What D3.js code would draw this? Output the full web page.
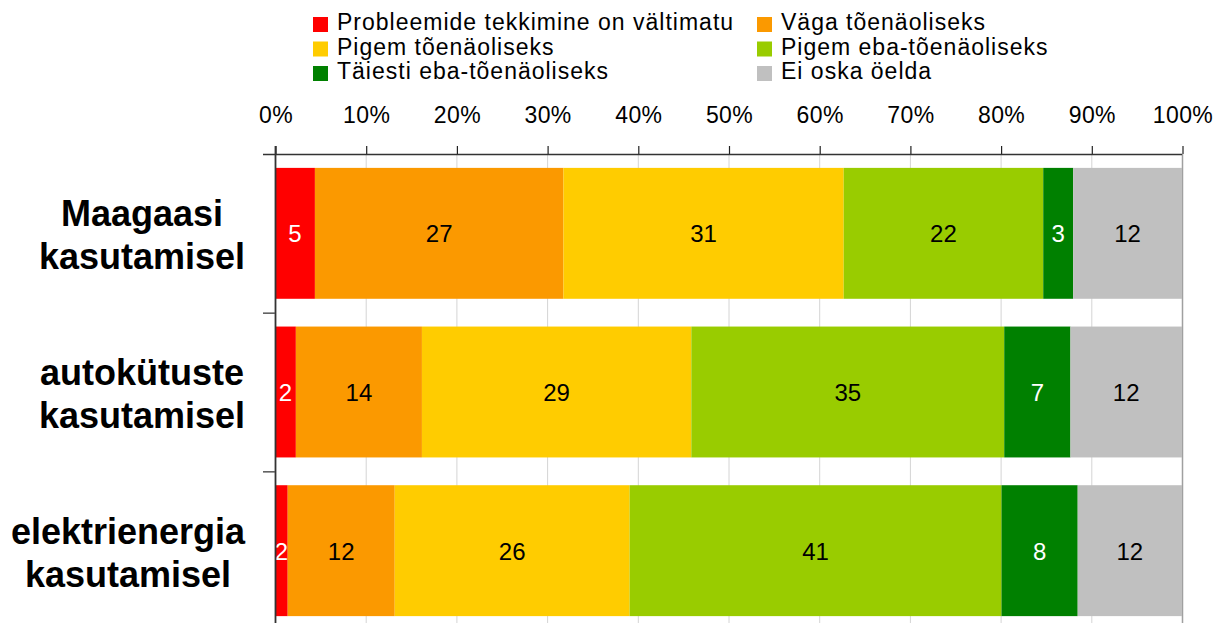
<!DOCTYPE html>
<html>
<head>
<meta charset="utf-8">
<script src="https://cdn.jsdelivr.net/npm/d3@7"></script>
<style>
  body { margin: 0; background: #fff; }
  text { font-family: "Liberation Sans", Arial, sans-serif; }
</style>
</head>
<body>
<div id="chart"></div>
<script>
// Chart data
var categories = ["Maagaasi kasutamisel", "autokütuste kasutamisel", "elektrienergia kasutamisel"];
var seriesNames = ["Probleemide tekkimine on vältimatu", "Väga tõenäoliseks", "Pigem tõenäoliseks",
                   "Pigem eba-tõenäoliseks", "Täiesti eba-tõenäoliseks", "Ei oska öelda"];
var seriesColors = ["#ff0000", "#fb9900", "#ffcc00", "#99cc00", "#008000", "#c0c0c0"];
var labelColors = ["#fff", "#000", "#000", "#000", "#fff", "#000"];
var tickValues = [0, 10, 20, 30, 40, 50, 60, 70, 80, 90, 100];

// series values, one per category
var unavoidable = [4.4, 2.3, 1.4];
var veryLikely = [27.4, 13.9, 11.8];
var ratherLikely = [30.9, 29.7, 25.9];
var ratherUnlikely = [22.0, 34.5, 41.0];
var totallyUnlikely = [3.3, 7.3, 8.4];
var cannotSay = [12.0, 12.3, 11.5];

// numbers printed on the segments
var unavoidableLabels = [5, 2, 2];
var veryLikelyLabels = [27, 14, 12];
var ratherLikelyLabels = [31, 29, 26];
var ratherUnlikelyLabels = [22, 35, 41];
var totallyUnlikelyLabels = [3, 7, 8];
var cannotSayLabels = [12, 12, 12];

var seriesValues = [unavoidable, veryLikely, ratherLikely, ratherUnlikely, totallyUnlikely, cannotSay];
var seriesLabels = [unavoidableLabels, veryLikelyLabels, ratherLikelyLabels,
                    ratherUnlikelyLabels, totallyUnlikelyLabels, cannotSayLabels];

var svgWidth = 1216;
var svgHeight = 623;

var svg = d3.select("#chart")
  .append("svg")
  .attr("width", svgWidth)
  .attr("height", svgHeight);

// table for d3.stack
var table = categories.map(function(c, i) {
  var row = { cat: c };
  seriesNames.forEach(function(s, j) { row[s] = seriesValues[j][i]; });
  return row;
});
var stacked = d3.stack().keys(seriesNames)(table);

// Scales
var x = d3.scaleLinear().domain([0, 100]).range([275, 1182]);
var yRows = d3.scaleBand().domain(categories).range([154, 630]);
var yBars = d3.scaleBand().domain(categories).range([154, 630])
  .paddingInner(0.175).paddingOuter(0.0875);

// gridlines
svg.append("g").selectAll("line")
  .data(tickValues.slice(1))
  .enter().append("line")
  .attr("x1", d => x(d) + 0.5).attr("x2", d => x(d) + 0.5)
  .attr("y1", 154).attr("y2", 630)
  .attr("stroke", d => d === 100 ? "#a0a0a0" : "#d4d4d4")
  .attr("stroke-width", d => d === 100 ? 1.5 : 1);

// bars
var layers = svg.append("g").selectAll("g")
  .data(stacked)
  .enter().append("g")
  .attr("fill", (d, i) => seriesColors[i]);

layers.selectAll("rect")
  .data(d => d)
  .enter().append("rect")
  .attr("x", d => x(d[0]))
  .attr("width", d => x(d[1]) - x(d[0]))
  .attr("y", d => yBars(d.data.cat))
  .attr("height", yBars.bandwidth());

// segment labels
stacked.forEach(function(layer, j) {
  svg.append("g").selectAll("text")
    .data(layer)
    .enter().append("text")
    .attr("x", d => (x(d[0]) + x(d[1])) / 2)
    .attr("y", d => yBars(d.data.cat) + yBars.bandwidth() / 2)
    .attr("dy", "0.38em")
    .attr("text-anchor", "middle")
    .attr("font-size", 24)
    .attr("fill", labelColors[j])
    .text((d, i) => seriesLabels[j][i]);
});

// top axis
var topAxis = d3.axisTop(x)
  .tickValues(tickValues)
  .tickSize(8)
  .tickSizeOuter(0)
  .tickPadding(23)
  .tickFormat(d => d + "%");

var axisG = svg.append("g")
  .attr("transform", "translate(0.5,154)")
  .call(topAxis);
axisG.select(".domain").remove();
axisG.selectAll(".tick line").attr("stroke", "#222").attr("stroke-width", 1.2);
axisG.selectAll("text")
  .attr("font-size", 23)
  .attr("letter-spacing", "0.4px")
  .attr("font-family", "Liberation Sans, Arial, sans-serif")
  .attr("fill", "#000");

svg.append("line")
  .attr("x1", 263).attr("x2", 1182)
  .attr("y1", 154.5).attr("y2", 154.5)
  .attr("stroke", "#333").attr("stroke-width", 1.5);

// left axis with ticks between rows
svg.append("line")
  .attr("x1", 275.5).attr("x2", 275.5)
  .attr("y1", 146).attr("y2", 630)
  .attr("stroke", "#333").attr("stroke-width", 1.8);

svg.append("g").selectAll("line")
  .data(categories.slice(1))
  .enter().append("line")
  .attr("x1", 263).attr("x2", 275)
  .attr("y1", d => yRows(d) + 0.5).attr("y2", d => yRows(d) + 0.5)
  .attr("stroke", "#555").attr("stroke-width", 1.5);

// row labels (two lines, block right-aligned)
categories.forEach(function(c) {
  var lines = c.split(" ");
  var cy = yRows(c) + yRows.bandwidth() / 2;
  var g = svg.append("g");
  var texts = g.selectAll("text")
    .data(lines)
    .enter().append("text")
    .attr("y", (d, i) => cy - 7 + i * 43)
    .attr("text-anchor", "middle")
    .attr("font-size", 36)
    .attr("font-weight", "bold")
    .attr("fill", "#000")
    .text(d => d);
  var maxW = 0;
  texts.each(function() { maxW = Math.max(maxW, this.getComputedTextLength()); });
  texts.attr("x", 245 - maxW / 2);
});

// legend
var legend = svg.append("g").selectAll("g")
  .data(seriesNames)
  .enter().append("g")
  .attr("transform", (d, i) => "translate(" + (i % 2 === 0 ? 313 : 757) + "," + (17 + Math.floor(i / 2) * 24.5) + ")");

legend.append("rect")
  .attr("width", 15).attr("height", 15)
  .attr("fill", (d, i) => seriesColors[i]);

legend.append("text")
  .attr("x", 24)
  .attr("y", 13)
  .attr("font-size", 23)
  .attr("letter-spacing", "1px")
  .attr("fill", "#000")
  .text(d => d);
</script>
</body>
</html>
